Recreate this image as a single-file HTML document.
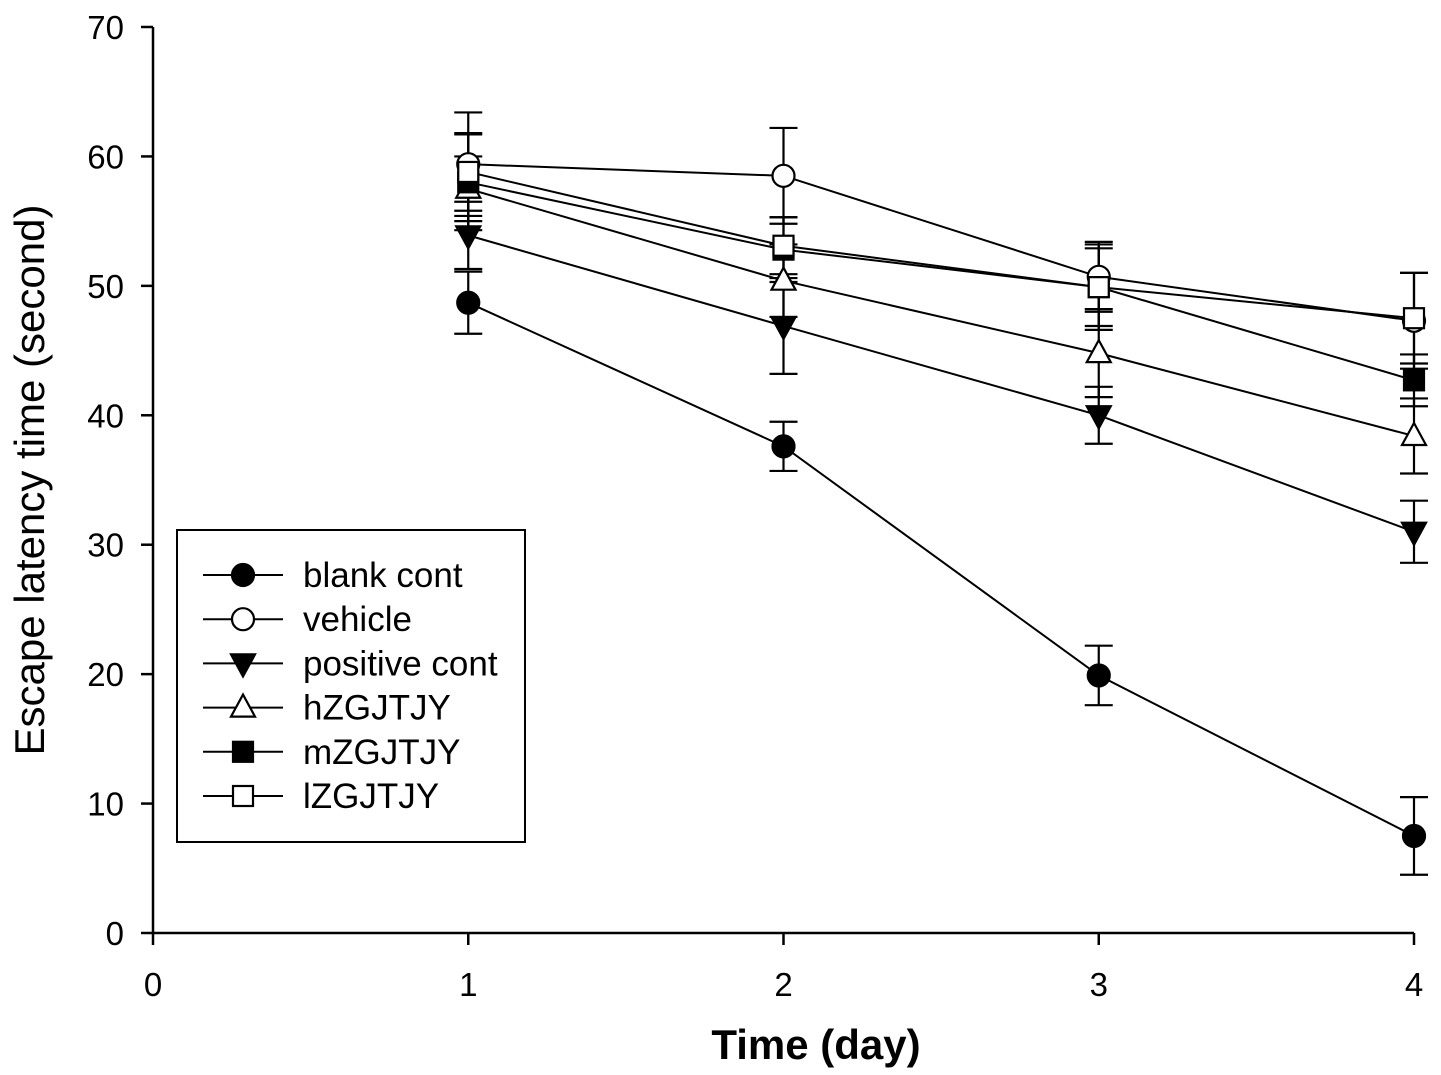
<!DOCTYPE html>
<html><head><meta charset="utf-8"><style>
html,body{margin:0;padding:0;background:#fff;}
svg{display:block;font-family:"Liberation Sans",Arial,sans-serif;}
</style></head><body>
<svg id="chart" width="1441" height="1075" viewBox="0 0 1441 1075"></svg>
<script>
const days=[1,2,3,4];
const xTicks=[0,1,2,3,4];
const yTicks=[0,10,20,30,40,50,60,70];
const seriesNames=["blank cont","vehicle","positive cont","hZGJTJY","mZGJTJY","lZGJTJY"];
const blankVals=[48.7,37.6,19.9,7.5];
const blankErr=[2.4,1.9,2.3,3.0];
const vehicleVals=[59.4,58.5,50.7,47.3];
const vehicleErr=[4.0,3.7,2.7,3.7];
const positiveVals=[53.9,46.9,40.0,31.0];
const positiveErr=[2.6,3.7,2.2,2.4];
const hVals=[57.5,50.4,44.8,38.4];
const hErr=[2.5,2.8,3.4,2.9];
const mVals=[58.0,52.8,49.9,42.7];
const mErr=[3.7,2.5,3.3,2.0];
const lVals=[58.8,53.1,49.9,47.5];
const lErr=[3.0,2.2,3.0,3.5];
const markers=["circleF","circleO","triDownF","triUpO","squareF","squareO"];

const NS="http://www.w3.org/2000/svg";
const svg=document.getElementById('chart');
const X=v=>153+v*315.25;
const Y=v=>933-v*12.943;
function el(tag,attrs,parent){const e=document.createElementNS(NS,tag);for(const k in attrs)e.setAttribute(k,attrs[k]);(parent||svg).appendChild(e);return e;}
const S={stroke:"#000","stroke-width":2.5,fill:"none"};

const ax=el('path',Object.assign({d:`M153,${Y(70)}V933H${X(4)}`},S));


yTicks.forEach(t=>{
  const l=el('line',Object.assign({x1:141,x2:153,y1:Y(t),y2:Y(t)},S));
  
  
  const tx=el('text',{x:124,y:Y(t)+12,"text-anchor":"end","font-size":33});
  tx.textContent=t;
  
  
});
xTicks.forEach(t=>{
  const l=el('line',Object.assign({x1:X(t),x2:X(t),y1:933,y2:945},S));
  
  
  const tx=el('text',{x:X(t),y:996,"text-anchor":"middle","font-size":33});
  tx.textContent=t;
  
  
});
const xt=el('text',{x:816,y:1059,"text-anchor":"middle","font-size":42,"font-weight":"bold"});
xt.textContent="Time (day)";


const yt=el('text',{x:0,y:0,transform:"translate(44,480) rotate(-90)","text-anchor":"middle","font-size":42});
yt.textContent="Escape latency time (second)";



function marker(type,cx,cy,g){
  const filled=type.endsWith('F');const fill=filled?"#000":"#fff";
  const a={stroke:"#000","stroke-width":2.2,fill:fill};
  if(type.startsWith('circle')) return el('circle',Object.assign({cx:cx,cy:cy,r:11},a),g);
  if(type.startsWith('square')) return el('rect',Object.assign({x:cx-10,y:cy-10,width:20,height:20},a),g);
  if(type.startsWith('triDown')) return el('path',Object.assign({d:`M${cx-12},${cy-9}H${cx+12}L${cx},${cy+13}Z`},a),g);
  return el('path',Object.assign({d:`M${cx-12},${cy+9}H${cx+12}L${cx},${cy-13}Z`},a),g);
}
const allVals=[blankVals,vehicleVals,positiveVals,hVals,mVals,lVals];
const allErr=[blankErr,vehicleErr,positiveErr,hErr,mErr,lErr];
const keys=["blank","vehicle","positive","h","m","l"];
allVals.forEach((vals,si)=>{
  vals.forEach((v,i)=>{
    const e=allErr[si][i],x=X(days[i]);
    const p=el('path',Object.assign({d:`M${x},${Y(v+e)}V${Y(v-e)}M${x-14},${Y(v+e)}h28M${x-14},${Y(v-e)}h28`},S,{"stroke-width":2.2}));
    
    
  });
});
allVals.forEach((vals,si)=>{
  const g=el('g',{});
  
  
  el('polyline',Object.assign({points:vals.map((v,i)=>X(days[i])+","+Y(v)).join(" ")},S,{"stroke-width":2}),g);
  vals.forEach((v,i)=>{
    const m=marker(markers[si],X(days[i]),Y(v),g);
    
    
  });
});
const lg=el('g',{});


el('rect',{x:177,y:530,width:348,height:312,fill:"#fff",stroke:"#000","stroke-width":2},lg);
seriesNames.forEach((n,i)=>{
  const y=575+i*44.2;
  const g=el('g',{},lg);
  
  
  el('line',Object.assign({x1:203,x2:283,y1:y,y2:y},S,{"stroke-width":2}),g);
  marker(markers[i],243,y,g);
  const t=el('text',{x:303,y:y+12,"font-size":35},g);
  t.textContent=n;
});
</script>
</body></html>
